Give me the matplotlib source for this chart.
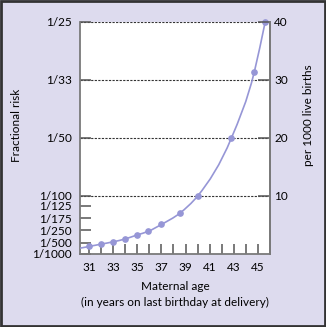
import numpy as np
import matplotlib
matplotlib.use('Agg')
import matplotlib.pyplot as plt
from matplotlib.path import Path
from matplotlib.patches import PathPatch, Rectangle

plt.rcParams['font.family'] = ['Lato', 'DejaVu Sans']

# risk per 1000 live births by maternal age
ages = [31, 32, 33, 34, 35, 35.9, 37, 38.5, 40, 42.8, 44.7, 45.6]
rates = [1.3, 1.7, 2.1, 2.6, 3.3, 3.9, 5.1, 7.0, 10.0, 20.0, 31.4, 40.0]
curve_start = (30.25, 1.0)

x_ticks = list(range(31, 46))
x_labels = [str(a) if a % 2 == 1 else '' for a in x_ticks]

left_ticks = [0, 1.95, 4.1, 6.2, 8.3, 10, 20, 30, 40]
left_labels = ['1/1000', '1/500', '1/250', '1/175', '1/125', '1/100', '1/50', '1/33', '1/25']
right_ticks = [10, 20, 30, 40]

bg = '#dddbee'
line_col = '#9696d6'
spine_col = '#7a7a7a'
fs = 8.5

fig = plt.figure(figsize=(3.26, 3.27), dpi=100, facecolor=bg)
ax = fig.add_axes([80/326, 1 - 254/327, 190/326, 232/327])
ax.set_facecolor('white')
ax.set_xlim(30.25, 46)
ax.set_ylim(0, 40)

for y in right_ticks:
    ax.axhline(y, color='#333333', lw=0.8, ls=(0, (2, 1.2)), zorder=1)

# smooth curve as cubic Hermite segments through the points
xs = np.array([curve_start[0]] + ages)
ys = np.array([curve_start[1]] + rates)
m = np.gradient(ys, xs)
verts = [(xs[0], ys[0])]
codes = [Path.MOVETO]
for i in range(len(xs) - 1):
    h = xs[i + 1] - xs[i]
    verts += [(xs[i] + h / 3, ys[i] + m[i] * h / 3),
              (xs[i + 1] - h / 3, ys[i + 1] - m[i + 1] * h / 3),
              (xs[i + 1], ys[i + 1])]
    codes += [Path.CURVE4] * 3
ax.add_patch(PathPatch(Path(verts, codes), fill=False, edgecolor=line_col, lw=1.2, zorder=3))
ax.plot(ages, rates, 'o', color=line_col, ms=3.8, zorder=4, clip_on=False)

for side in ['left', 'right', 'bottom']:
    ax.spines[side].set_color(spine_col)
    ax.spines[side].set_linewidth(1.3)
ax.spines['top'].set_visible(False)

ax.set_xticks(x_ticks)
ax.set_xticklabels(x_labels)
ax.set_yticks(left_ticks)
ax.set_yticklabels(left_labels)
ax.tick_params(axis='x', direction='in', length=7, width=1.1, color='#555555', pad=6, labelsize=fs)
ax.tick_params(axis='y', direction='in', length=8, width=1.1, color='#555555', pad=6, labelsize=fs)

ax2 = ax.twinx()
ax2.set_ylim(0, 40)
ax2.set_yticks(right_ticks)
ax2.tick_params(axis='y', direction='in', length=9, width=1.1, color='#555555', pad=3, labelsize=fs)
for side in ['left', 'top', 'bottom']:
    ax2.spines[side].set_visible(False)
ax2.spines['right'].set_color(spine_col)
ax2.spines['right'].set_linewidth(1.3)

fig.text(175/326, 1 - 287/327, 'Maternal age', ha='center', va='center', fontsize=fs)
fig.text(175/326, 1 - 302/327, '(in years on last birthday at delivery)', ha='center', va='center', fontsize=fs)
fig.text(17/326, 1 - 125/327, 'Fractional risk', rotation=90, ha='center', va='center', fontsize=fs)
fig.text(308/326, 1 - 115/327, 'per 1000 live births', rotation=90, ha='center', va='center', fontsize=fs)

fig.add_artist(Rectangle((0.003, 0.003), 0.994, 0.994, transform=fig.transFigure,
                         fill=False, edgecolor='#333333', lw=2))

fig.savefig('out.png', dpi=100, facecolor=bg)
